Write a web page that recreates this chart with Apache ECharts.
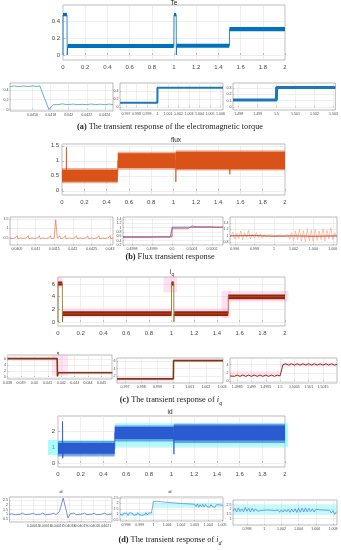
<!DOCTYPE html>
<html><head><meta charset="utf-8">
<script src="https://cdn.jsdelivr.net/npm/echarts@6/dist/echarts.min.js"></script>
<style>html,body{margin:0;padding:0;background:#fff}#c{width:341px;height:550px}</style>
</head><body><div id="c"></div>
<script>
// ---------- tick values ----------
const mainX = [0,0.2,0.4,0.6,0.8,1,1.2,1.4,1.6,1.8,2];
const teMainY = [0,0.2,0.4];
const teZ1X = [0.0416,0.0418,0.042,0.0422,0.0424];
const teZ1Y = [0,0.2,0.4];
const teZ2X = [0.997,0.998,0.999,1,1.001,1.002,1.003,1.004,1.005,1.006];
const teZ2Y = [0,0.2,0.4];
const teZ3X = [1.498,1.499,1.5,1.501,1.502,1.503];
const teZ3Y = [0,0.1,0.2,0.3];
const fluxMainY = [0,0.5,1,1.5];
const fluxZ1X = [0.0405,0.041,0.0415,0.042,0.0425,0.043];
const fluxZ1Y = [0.5,1,1.5];
const fluxZ2X = [0.4998,0.4999,0.5,0.5001,0.5002];
const fluxZ2Y = [0.2,0.4,0.6,0.8,1,1.2,1.4];
const fluxZ3X = [0.996,0.998,1,1.002,1.004,1.006];
const fluxZ3Y = [0.8,1,1.2,1.4];
const iqMainY = [0,2,4,6];
const iqZ1X = [0.038,0.039,0.04,0.041,0.042,0.043,0.044,0.045];
const iqZ1Y = [0,2,4,6];
const iqZ2X = [0.997,0.998,0.999,1,1.001,1.002,1.003];
const iqZ2Y = [2,4,6];
const iqZ3X = [1.4985,1.499,1.4995,1.5,1.5005,1.501,1.5015,1.502];
const iqZ3Y = [0,2,4];
const idMainY = [0,1,2];
const idZ1X = [0.04014,0.04015,0.04016,0.04017,0.04018,0.04019,0.0402,0.04021];
const idZ1Y = [0.5,1,1.5,2,2.5];
const idZ2X = [0.998,0.999,1,1.001,1.002,1.003,1.004,1.005];
const idZ2Y = [0.5,1,1.5,2,2.5];
const idZ3X = [0.998,1,1.002,1.004,1.006,1.008];
const idZ3Y = [1,1.5,2,2.5];

// ---------- series data ----------
// bands: [xStart, xEnd, yLow, yHigh]
const teMainLine = [[0,0],[0,0.48],[0.036,0.48],[0.038,0],[0.042,0.1],[0.998,0.1],[1.0,0.1],[1.0,0.48],[1.02,0.48],[1.021,0],[1.024,0.11],[1.5,0.11],[1.5,0.31],[2,0.31]];
const teMainBands = [[0,0.036,0.465,0.505],[0.042,0.998,0.085,0.133],[1.0,1.02,0.465,0.505],[1.024,1.498,0.088,0.135],[1.5,2.0,0.285,0.335]];
const teZ1Line = [[0.04135,0.47],[0.0414,0.48],[0.04145,0.465],[0.0415,0.48],[0.04155,0.47],[0.0416,0.48],[0.04165,0.47],[0.04168,0.48],[0.04178,0.0],[0.0418,0.03],[0.04183,0.1],[0.04188,0.1],[0.04193,0.115],[0.04198,0.1],[0.04205,0.11],[0.0421,0.1],[0.04215,0.105],[0.0422,0.1],[0.04225,0.112],[0.0423,0.1],[0.04235,0.108],[0.0424,0.1],[0.04245,0.11],[0.04249,0.1]];
const teZ2Line = [[0.99643,0.1],[0.99999,0.1],[1.0,0.48],[1.00624,0.48]];
const teZ3Line = [[1.4977,0.11],[1.49999,0.11],[1.5,0.31],[1.5031,0.31]];

const fluxMainBands = [[0,0.5,0.3,0.7],[0.5,1.02,0.76,1.25],[1.02,2.0,0.72,1.3]];
const fluxMainOuter = [[0,0.5,0.25,0.76],[0.5,1.02,0.7,1.3],[1.02,2.0,0.68,1.35]];
const fluxMainLine = [[0,0.5],[0.038,0.5],[0.04,1.45],[0.042,0.5],[0.5,0.5],[0.5,1.0],[1.02,1.0],[1.021,0.3],[1.023,1.0],[1.5,1.0],[1.505,0.55],[1.51,1.0],[2,1.0]];
const fluxZ1Line = [[0.0403,0.5],[0.04035,0.6],[0.04037,0.47],[0.04045,0.5],[0.0405,0.62],[0.04052,0.46],[0.0406,0.5],[0.04065,0.6],[0.04067,0.47],[0.04075,0.5],[0.0408,0.62],[0.04082,0.46],[0.0409,0.5],[0.04095,0.6],[0.04097,0.47],[0.04105,0.5],[0.0411,0.62],[0.04112,0.46],[0.0412,0.5],[0.04125,0.6],[0.04127,0.47],[0.04135,0.5],[0.0414,0.62],[0.04142,0.46],[0.0415,0.5],[0.04154,1.45],[0.04158,0.5],[0.04165,0.6],[0.04167,0.47],[0.04175,0.5],[0.0418,0.62],[0.04182,0.46],[0.0419,0.5],[0.04195,0.6],[0.04197,0.47],[0.04205,0.5],[0.0421,0.62],[0.04212,0.46],[0.0422,0.5],[0.04225,0.6],[0.04227,0.47],[0.04235,0.5],[0.0424,0.62],[0.04242,0.46],[0.0425,0.5],[0.04255,0.6],[0.04257,0.47],[0.04265,0.5],[0.0427,0.62],[0.04272,0.46],[0.0428,0.5],[0.04285,0.6],[0.04287,0.47],[0.04295,0.5],[0.043,0.62],[0.04302,0.46],[0.04308,0.5]];
const fluxZ2Ref = [[0.499755,0.58],[0.5,0.58],[0.5,1.02],[0.500255,1.02]];
const fluxZ2Line = [[0.499755,0.55],[0.49979,0.55],[0.4998,0.62],[0.49982,0.55],[0.49989,0.55],[0.4999,0.6],[0.49992,0.56],[0.49999,0.56],[0.5,0.95],[0.50008,0.95],[0.5001,1.08],[0.50012,1.04],[0.50019,1.04],[0.5002,1.1],[0.50022,1.02],[0.500255,1.02]];
const fluxZ3Line = [[0.9956,1.0],[0.9958,1.12],[0.996,0.9],[0.9962,1.08],[0.9964,0.92],[0.9966,1.15],[0.9968,0.88],[0.997,1.1],[0.9972,0.95],[0.9974,1.18],[0.9976,0.9],[0.9978,1.05],[0.998,0.93],[0.9982,1.1],[0.9984,0.95],[0.9986,1.06],[0.9988,0.92],[0.999,1.04],[0.9992,0.96],[0.9994,1.03],[0.9996,0.98],[0.9998,1.02],[1.0,0.97],[1.0002,1.01],[1.0004,0.98],[1.0006,1.02],[1.0008,0.99],[1.001,1.0],[1.0012,0.96],[1.0014,1.04],[1.0016,0.9],[1.0018,1.1],[1.002,0.86],[1.0022,1.15],[1.0024,0.88],[1.0026,1.2],[1.0028,0.84],[1.003,1.16],[1.0032,0.82],[1.0034,1.22],[1.0036,0.85],[1.0038,1.18],[1.004,0.83],[1.0042,1.2],[1.0044,0.86],[1.0046,1.15],[1.0048,0.88],[1.005,1.22],[1.0052,0.84],[1.0054,1.18],[1.0056,0.9],[1.0058,1.25],[1.006,0.88],[1.0062,1.1],[1.0064,0.95]];
const fluxZ3Mean = [[0.99551,1.0],[0.998,1.01],[1.0,0.99],[1.002,1.0],[1.004,0.99],[1.00643,1.0]];

const iqMainLine = [[0,0],[0,6.1],[0.038,6.1],[0.04,0],[0.042,1.3],[1.0,1.3],[1.0,6.1],[1.02,6.1],[1.021,0],[1.024,1.3],[1.5,1.3],[1.5,4.0],[2,4.0]];
const iqMainBands = [[0,0.038,5.75,6.4],[0.042,1.0,0.95,1.7],[1.0,1.02,5.75,6.4],[1.024,1.5,0.95,1.7],[1.5,2.0,3.6,4.35]];
const iqMainRef = [[-0.01,0.04,5.4,7.1],[0.04,1.0,0.7,2.15],[0.93,1.05,4.7,7.1],[1.02,1.5,0.7,2.15],[1.44,1.52,0.7,4.9],[1.5,2.03,3.2,4.9]];
const iqZ1Line = [[0.038,6.1],[0.0417,6.1],[0.04172,0.2],[0.04176,1.4],[0.0458,1.4]];
const iqZ1Ref = [[0.038,0.0417,5.3,6.8],[0.0417,0.0458,0.7,1.9],[0.0413,0.0425,0.4,7.3]];
const iqZ2Line = [[0.9965,1.3],[0.99999,1.3],[1.0,6.1],[1.00306,6.1]];
const iqZ2Ref = [[0.9965,1.0,0.5,2.0],[1.0,1.00306,5.6,6.6]];
const iqZ3Line = [[1.49825,1.3],[1.4983,1.5],[1.4984,1.2],[1.4985,1.5],[1.4986,1.2],[1.4987,1.5],[1.4988,1.2],[1.4989,1.5],[1.499,1.2],[1.4991,1.5],[1.4992,1.2],[1.4993,1.5],[1.4994,1.2],[1.4995,1.5],[1.4996,1.2],[1.4997,1.5],[1.4998,1.2],[1.4999,1.5],[1.5,1.3],[1.5001,4.0],[1.5002,4.2],[1.5003,3.9],[1.5004,4.2],[1.5005,3.9],[1.5006,4.2],[1.5007,3.9],[1.5008,4.2],[1.5009,3.9],[1.501,4.2],[1.5011,3.9],[1.5012,4.2],[1.5013,3.9],[1.5014,4.2],[1.5015,3.9],[1.5016,4.2],[1.5017,3.9],[1.5018,4.2],[1.5019,3.9],[1.50199,4.05]];
const iqZ3Ref = [[1.49825,1.5,1.0,2.4],[1.5,1.50199,3.45,4.55]];

const idMainCyan = [[-0.088,0.5,0.5,1.44],[0.5,2.026,1.02,2.48]];
const idMainOuter = [[0,0.5,0.4,1.38],[0.5,1.02,1.35,2.35],[1.02,2.0,1.25,2.46]];
const idMainBands = [[0,0.5,0.58,1.25],[0.5,1.02,1.5,2.25],[1.02,2.0,1.4,2.35]];
const idMainLine = [[0,0.9],[0.038,0.9],[0.04,2.6],[0.042,0.3],[0.044,0.9],[0.5,0.9],[0.5,1.9],[1.02,1.9],[1.021,0.55],[1.023,1.8],[2,1.8]];
const idZ1Line = [[0.04013,1.0],[0.040132,1.05],[0.040135,0.95],[0.040139,1.0],[0.040141,1.12],[0.040143,0.97],[0.040147,1.0],[0.04015,1.1],[0.040152,0.96],[0.040156,1.0],[0.040158,1.12],[0.04016,0.96],[0.040164,1.0],[0.040167,1.1],[0.040169,0.96],[0.040172,1.3],[0.040175,2.7],[0.040178,1.2],[0.040179,0.6],[0.040181,1.05],[0.040184,1.12],[0.040186,0.96],[0.04019,1.0],[0.040193,1.12],[0.040195,0.96],[0.040199,1.0],[0.040201,1.1],[0.040203,0.96],[0.040207,1.0],[0.04021,1.12],[0.040212,0.95],[0.040216,1.05]];
const idZ2Cyan = [[0.99756,1.0,0.85,1.15],[1.0,1.00507,1.6,2.05]];
const idZ2Line = [[0.99756,1.0],[0.99765,1.12],[0.99775,0.9],[0.99785,1.1],[0.99795,0.92],[0.99805,1.08],[0.99815,0.88],[0.99825,1.12],[0.99835,0.94],[0.99845,1.1],[0.99855,0.9],[0.99865,1.05],[0.99875,0.92],[0.99885,1.14],[0.99895,0.95],[0.99905,1.1],[0.99915,0.9],[0.99925,1.08],[0.99935,0.93],[0.99945,1.15],[0.99955,0.92],[0.99965,1.12],[0.99975,0.95],[0.99985,1.1],[0.99995,1.0],[1.0,2.15],[1.0001,2.05],[1.0002,2.2],[1.0003,2.08],[1.0004,2.18],[1.0005,2.1],[1.0006,2.15],[1.0007,2.05],[1.0008,2.12],[1.0009,2.04],[1.001,2.1],[1.0011,2.02],[1.0012,2.08],[1.0013,2.0],[1.0014,2.06],[1.0015,1.98],[1.0016,2.04],[1.0017,1.97],[1.0018,2.02],[1.0019,1.95],[1.002,2.0],[1.0021,1.94],[1.0022,1.98],[1.0023,1.92],[1.0024,1.97],[1.0025,1.9],[1.0026,1.95],[1.0027,1.88],[1.0028,1.94],[1.0029,1.87],[1.003,1.92],[1.0031,1.7],[1.0032,1.95],[1.0033,1.65],[1.0034,1.9],[1.0035,1.68],[1.0036,1.92],[1.0037,1.66],[1.0038,1.9],[1.0039,1.7],[1.004,1.88],[1.0041,1.65],[1.0042,1.9],[1.0043,1.68],[1.0044,1.86],[1.0045,1.66],[1.0046,1.88],[1.0047,1.7],[1.0048,1.86],[1.0049,1.68],[1.005,1.85],[1.00507,1.8]];
const idZ3Cyan = [[0.99638,1.00846,1.45,2.45]];
const idZ3Line = [[0.9964,1.8],[0.9966,2.1],[0.9968,1.7],[0.997,2.15],[0.9972,1.75],[0.9974,2.05],[0.9976,1.72],[0.9978,2.2],[0.998,1.78],[0.9982,2.1],[0.9984,1.7],[0.9986,2.12],[0.9988,1.76],[0.999,2.05],[0.9992,1.8],[0.9994,2.0],[0.9996,1.85],[0.9998,1.95],[1.0,1.9],[1.0002,1.86],[1.0004,1.92],[1.0006,1.84],[1.0008,1.9],[1.001,1.82],[1.0012,1.86],[1.0014,1.7],[1.0016,1.92],[1.0018,1.68],[1.002,1.95],[1.0022,1.7],[1.0024,1.98],[1.0026,1.72],[1.0028,2.0],[1.003,1.68],[1.0032,2.02],[1.0034,1.7],[1.0036,2.05],[1.0038,1.66],[1.004,2.1],[1.0042,1.68],[1.0044,2.12],[1.0046,1.7],[1.0048,2.15],[1.005,1.72],[1.0052,2.1],[1.0054,1.75],[1.0056,2.05],[1.0058,1.7],[1.006,2.0],[1.0062,1.8],[1.0064,1.95],[1.0066,1.78],[1.0068,1.92],[1.007,1.75],[1.0072,1.9],[1.0074,1.8],[1.0076,1.88],[1.0078,1.6],[1.008,1.85],[1.0082,1.45],[1.0084,1.75]];

// ---------- builder ----------
const grids = [], xAxes = [], yAxes = [], series = [], titles = [];
const FONT = '"Liberation Sans", Arial, sans-serif';
function axisCfg(i, dim, range, ticks, big) {
  return {
    gridIndex: i, type: 'value', min: range[0], max: range[1],
    axisLine: {show: false},
    axisTick: {show: true, inside: true, length: big ? 2 : 1, customValues: ticks, lineStyle: {color: '#888', width: 0.5}},
    axisLabel: {customValues: ticks, fontSize: big ? 6 : 3.6, fontFamily: FONT, color: '#4a4a4a',
      margin: big ? (dim === 'x' ? 4 : 3) : 1.5, formatter: v => String(v)},
    splitLine: {show: true, lineStyle: {color: '#e4e4e4', width: 0.6}}
  };
}
function panel(box, xr, xt, yr, yt, big) {
  const i = grids.length;
  grids.push({left: box[0], top: box[1], width: box[2], height: box[3], show: true,
    borderColor: '#8f8f8f', borderWidth: 0.6, backgroundColor: 'transparent'});
  xAxes.push(axisCfg(i, 'x', xr, xt, big));
  yAxes.push(axisCfg(i, 'y', yr, yt, big));
  return i;
}
function bands(i, data, fill, z) {
  series.push({type: 'custom', xAxisIndex: i, yAxisIndex: i, data, clip: false, silent: true, z: z || 2,
    encode: {x: [0, 1], y: [2, 3]},
    renderItem: (p, api) => {
      const a = api.coord([api.value(0), api.value(3)]);
      const b = api.coord([api.value(1), api.value(2)]);
      return {type: 'rect', shape: {x: a[0], y: a[1], width: b[0] - a[0], height: b[1] - a[1]}, style: {fill}};
    }});
}
function line(i, data, color, width, z) {
  series.push({type: 'line', xAxisIndex: i, yAxisIndex: i, data, symbol: 'none', showSymbol: false,
    lineStyle: {color, width}, z: z || 3, silent: true, animation: false});
}
function label(text, x, y, size, rich, fam) {
  titles.push({text, left: x, top: y, textAlign: 'center', padding: 0, itemGap: 0,
    textStyle: {fontSize: size, fontWeight: 'normal', color: '#222', fontFamily: fam || FONT, rich: rich || {}}});
}

// (a) electromagnetic torque
let g = panel([63, 5, 222, 55], [0, 2], mainX, [-0.06, 0.6], teMainY, true);
bands(g, teMainBands, '#0072BD'); line(g, teMainLine, '#0072BD', 0.8);
g = panel([10, 83, 103, 28], [0.04135, 0.04249], teZ1X, [-0.03, 0.54], teZ1Y, false);
line(g, teZ1Line, '#3d9dd0', 0.8);
g = panel([120, 83, 103, 27], [0.99643, 1.00624], teZ2X, [-0.08, 0.6], teZ2Y, false);
line(g, teZ2Line, '#1b78b8', 2);
g = panel([233, 83, 107, 27], [1.4977, 1.5031], teZ3X, [-0.046, 0.379], teZ3Y, false);
line(g, teZ3Line, '#1b78b8', 3);

// (b) flux
g = panel([62, 144, 223, 51], [0, 2], mainX, [-0.14, 1.56], fluxMainY, true);
bands(g, fluxMainOuter, 'rgba(217,83,25,0.45)'); bands(g, fluxMainBands, '#D95319'); line(g, fluxMainLine, '#D95319', 0.8);
g = panel([10, 217, 103, 28], [0.04031, 0.04308], fluxZ1X, [0.13, 1.6], fluxZ1Y, false);
line(g, fluxZ1Line, '#e8764a', 0.7);
g = panel([123, 217, 100, 28], [0.499755, 0.500255], fluxZ2X, [0.2, 1.49], fluxZ2Y, false);
line(g, fluxZ2Ref, '#3a4fd8', 0.8); line(g, fluxZ2Line, '#e0503a', 0.8);
g = panel([230, 217, 107, 28], [0.99551, 1.00643], fluxZ3X, [0.72, 1.58], fluxZ3Y, false);
line(g, fluxZ3Line, '#f2a07e', 0.6); line(g, fluxZ3Mean, '#c8341c', 0.9);

// (c) iq
g = panel([58, 277, 227, 49], [0, 2], mainX, [-0.63, 7.1], iqMainY, true);
bands(g, iqMainRef, 'rgba(255,130,205,0.25)', 1); bands(g, iqMainBands, '#9d1f0d'); line(g, iqMainLine, '#8a6a14', 0.8);
g = panel([7, 355, 105, 24], [0.038, 0.04578], iqZ1X, [-0.67, 7.3], iqZ1Y, false);
bands(g, iqZ1Ref, 'rgba(255,130,205,0.22)', 1); line(g, iqZ1Line, '#7a3a10', 1.6);
g = panel([117, 358, 106, 25], [0.9965, 1.00306], iqZ2X, [0.2, 6.8], iqZ2Y, false);
bands(g, iqZ2Ref, 'rgba(255,130,205,0.22)', 1); line(g, iqZ2Line, '#7a3a10', 1.6);
g = panel([230, 358, 107, 25], [1.49825, 1.50199], iqZ3X, [-0.4, 5.6], iqZ3Y, false);
bands(g, iqZ3Ref, 'rgba(255,130,205,0.22)', 1); line(g, iqZ3Line, '#7a3a10', 1);

// (d) id
g = panel([58, 416, 227, 51], [0, 2], mainX, [-0.25, 2.94], idMainY, true);
bands(g, idMainCyan, 'rgba(100,248,248,0.55)', 1); bands(g, idMainOuter, 'rgba(43,91,208,0.55)'); bands(g, idMainBands, '#2b5bd0');
line(g, idMainLine, '#2b5bd0', 0.8);
g = panel([8, 497, 104, 25], [0.04013, 0.040216], idZ1X, [0.18, 2.82], idZ1Y, false);
line(g, idZ1Line, '#3f5fd5', 0.7);
g = panel([120, 497, 103, 24], [0.99756, 1.00507], idZ2X, [0.36, 2.6], idZ2Y, false);
bands(g, idZ2Cyan, 'rgba(100,248,248,0.4)', 1); line(g, idZ2Line, '#3f5fd5', 0.6);
g = panel([233, 500, 104, 25], [0.99638, 1.00846], idZ3X, [0.3, 3.0], idZ3Y, false);
bands(g, idZ3Cyan, 'rgba(100,248,248,0.4)', 1); line(g, idZ3Line, '#3f5fd5', 0.6);

// titles
const sub = {s: {fontSize: 4.5, verticalAlign: 'bottom', lineHeight: 9}, n: {fontSize: 6.5, lineHeight: 8}};
label('Te', 174, 0, 6.5);
label('flux', 176, 137, 6.5);
label('{n|i}{s|q}', 172, 268, 6.5, sub);
label('id', 170, 409, 6.5);
label('{n|i}{s|q}', 58, 350, 4, {s: {fontSize: 3, verticalAlign: 'bottom', lineHeight: 5}, n: {fontSize: 4, lineHeight: 5}});
label('id', 61, 490, 4);
label('id', 170, 490, 4);
const SERIF = '"Liberation Serif", "DejaVu Serif", serif';
const capRich = {b: {fontWeight: 'bold', fontSize: 8.3, fontFamily: SERIF, lineHeight: 11},
  i: {fontStyle: 'italic', fontSize: 8.3, fontFamily: SERIF, lineHeight: 11},
  s: {fontStyle: 'italic', fontSize: 6, fontFamily: SERIF, verticalAlign: 'bottom', lineHeight: 13}};
label('{b|(a)} The transient response of the electromagnetic torque', 170, 121, 8.3, capRich, SERIF);
label('{b|(b)} Flux transient response', 170, 251, 8.3, capRich, SERIF);
label('{b|(c)} The transient response of {i|i}{s|q}', 171, 393, 8.3, capRich, SERIF);
label('{b|(d)} The transient response of {i|i}{s|d}', 170, 533, 8.3, capRich, SERIF);

const chart = echarts.init(document.getElementById('c'), null, {renderer: 'canvas'});
chart.setOption({animation: false, backgroundColor: '#fff', title: titles, grid: grids, xAxis: xAxes, yAxis: yAxes, series});
</script></body></html>
